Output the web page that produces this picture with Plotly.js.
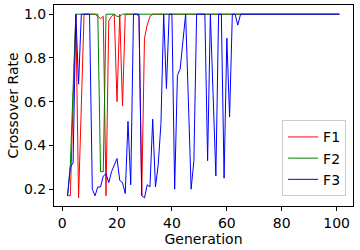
<!DOCTYPE html>
<html>
<head>
<meta charset="utf-8">
<script src="https://cdn.plot.ly/plotly-3.0.1.min.js"></script>
<style>html,body{margin:0;padding:0;background:#fff;}#chart{width:360px;height:250px;}</style>
</head>
<body>
<div id="chart"></div>
<script>
// Generations 2..101
const generations = [];
for (let g = 2; g <= 101; g++) generations.push(g);

function padOnes(arr, total) {
  const out = arr.slice();
  while (out.length < total) out.push(1.0);
  return out;
}

// F1 (red) values from generation 2 onwards; remaining generations are 1.0
const f1Start = [0.17, 0.17, 0.60, 1.00, 0.16, 0.56, 1.00, 1.00, 1.00, 1.00,
                 1.00, 0.99, 0.98, 0.99, 0.17, 0.97, 0.99, 1.00, 0.60, 1.00,
                 0.58, 1.00, 1.00, 1.00, 1.00, 1.00, 0.99, 0.17, 0.89, 0.95,
                 0.99];
// F2 (green)
const f2Start = [0.17, 0.31, 0.66, 1.00, 1.00, 1.00, 1.00, 1.00, 1.00, 1.00,
                 1.00, 1.00, 0.28, 0.28, 1.00, 1.00, 1.00, 1.00, 0.99, 0.99];
// F3 (blue)
const f3Start = [0.17, 0.30, 0.32, 1.00, 0.68, 1.00, 1.00, 1.00, 1.00, 0.20,
                 0.17, 0.21, 0.21, 0.26, 0.27, 0.23, 0.28, 0.31, 0.34, 0.24,
                 0.23, 0.18, 0.51, 0.22, 1.00, 1.00, 1.00, 0.17, 0.16, 0.22,
                 0.21, 0.52, 0.21, 0.31, 0.50, 1.00, 0.66, 1.00, 1.00, 0.20,
                 0.72, 0.75, 0.88, 1.00, 0.60, 0.20, 0.33, 1.00, 1.00, 1.00,
                 1.00, 0.33, 1.00, 0.63, 0.26, 1.00, 1.00, 0.25, 0.89, 0.53,
                 1.00, 1.00, 0.95, 1.00];

const f1 = padOnes(f1Start, generations.length);
const f2 = padOnes(f2Start, generations.length);
const f3 = padOnes(f3Start, generations.length);

const seriesNames = ['F1', 'F2', 'F3'];
const seriesColors = ['#ff0000', '#008000', '#0000ff'];
const seriesValues = [f1, f2, f3];

const xTicks = [0, 20, 40, 60, 80, 100];
const yTicks = [0.2, 0.4, 0.6, 0.8, 1.0];

const font = 'DejaVu Sans, sans-serif';

const traces = seriesValues.map((vals, i) => ({
  x: generations,
  y: vals,
  type: 'scatter',
  mode: 'lines',
  name: seriesNames[i],
  line: {color: seriesColors[i], width: 1}
}));

const layout = {
  width: 360,
  height: 250,
  margin: {l: 54, r: 7, t: 5, b: 44, pad: 0},
  paper_bgcolor: '#ffffff',
  plot_bgcolor: '#ffffff',
  font: {family: font, size: 14, color: '#000'},
  showlegend: true,
  legend: {
    x: 0.977, y: 0.048, xanchor: 'right', yanchor: 'bottom',
    bgcolor: 'rgba(255,255,255,0.8)', bordercolor: '#cccccc', borderwidth: 1,
    font: {family: font, size: 14, color: '#000'},
    itemwidth: 30, tracegroupgap: 0
  },
  xaxis: {
    range: [-2.95, 105.95],
    tickvals: xTicks,
    ticktext: xTicks.map(String),
    ticks: 'outside', ticklen: 4, tickwidth: 1, tickcolor: '#000',
    showline: true, mirror: true, linecolor: '#000', linewidth: 1,
    showgrid: false, zeroline: false,
    tickfont: {family: font, size: 14, color: '#000'},
    title: {text: 'Generation', font: {family: font, size: 14, color: '#000'}, standoff: 4}
  },
  yaxis: {
    range: [0.123, 1.042],
    tickvals: yTicks,
    ticktext: yTicks.map(v => v.toFixed(1)),
    ticks: 'outside', ticklen: 4, tickwidth: 1, tickcolor: '#000',
    showline: true, mirror: true, linecolor: '#000', linewidth: 1,
    showgrid: false, zeroline: false,
    tickfont: {family: font, size: 14, color: '#000'},
    title: {text: 'Crossover Rate', font: {family: font, size: 14, color: '#000'}, standoff: 2}
  }
};

Plotly.newPlot('chart', traces, layout, {displayModeBar: false, staticPlot: true});
</script>
</body>
</html>
